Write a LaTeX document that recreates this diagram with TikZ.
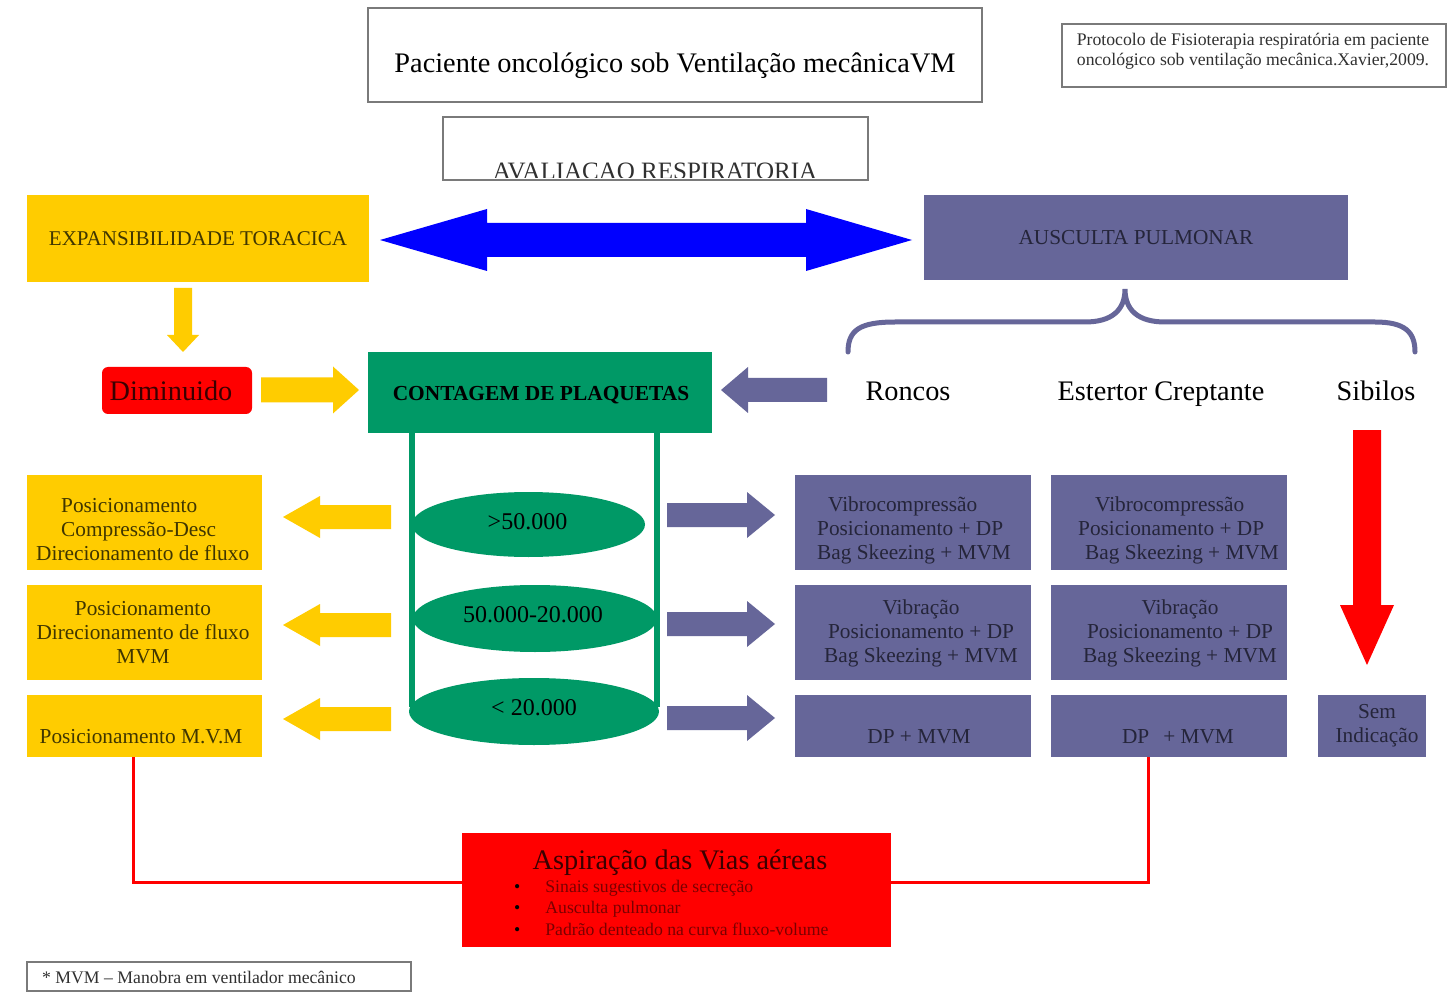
\documentclass[tikz,border=0pt]{standalone}
\usepackage{fontspec}
\setmainfont{Liberation Serif}
\usetikzlibrary{shapes.geometric}
\definecolor{yel}{HTML}{FFCC00}
\definecolor{pur}{HTML}{666699}
\definecolor{grn}{HTML}{009966}
\definecolor{rd}{HTML}{FF0000}
\definecolor{bl}{HTML}{0000FF}
\definecolor{bord}{HTML}{7A7A7A}
\definecolor{ytext}{HTML}{403600}
\definecolor{ptext}{HTML}{25253A}
\definecolor{dimtext}{HTML}{3A0000}
\definecolor{asptext}{HTML}{7A0000}
\definecolor{graytext}{HTML}{303030}
% horizontal block arrow: tail x, head base x, tip x, y, shaft half, head half, colour
\newcommand{\harrow}[7]{\fill[#7] (#1,#4-#5) -- (#2,#4-#5) -- (#2,#4-#6) -- (#3,#4) -- (#2,#4+#6) -- (#2,#4+#5) -- (#1,#4+#5) -- cycle;}
% vertical block arrow: tail y, head base y, tip y, x, shaft half, head half, colour
\newcommand{\varrow}[7]{\fill[#7] (#4-#5,#1) -- (#4-#5,#2) -- (#4-#6,#2) -- (#4,#3) -- (#4+#6,#2) -- (#4+#5,#2) -- (#4+#5,#1) -- cycle;}
\tikzset{
 frame/.style={draw=bord, line width=1.5pt, inner sep=0pt},
 ybox/.style={fill=yel, inner sep=0pt},
 pbox/.style={fill=pur, inner sep=0pt},
 ytxt/.style={text=ytext, font=\fontsize{21.3}{24}\selectfont, inner sep=0pt},
 ptxt/.style={text=ptext, font=\fontsize{21.3}{24}\selectfont, inner sep=0pt},
 lbl/.style={font=\fontsize{28.3}{32}\selectfont, inner sep=0pt},
 ell/.style={ellipse, fill=grn, inner sep=0pt, font=\fontsize{24}{28}\selectfont},
 redline/.style={draw=rd, line width=3pt},
 cyl/.style={draw=grn, line width=6pt},
}
\begin{document}
\begin{tikzpicture}[x=1pt,y=-1pt]
\useasboundingbox[fill=white] (0,0) rectangle (1452,992);

% title
\node[frame, line width=2pt, minimum width=614pt, minimum height=94pt] (title) at (675,55) {};
\node[lbl, anchor=base] (titlet) at (675,73) {Paciente oncológico sob Ventilação mecânicaVM};

% reference box
\node[frame, minimum width=384pt, minimum height=63pt] (ref) at (1254,55.5) {};
\node[inner sep=0pt, align=center, text=graytext, font=\fontsize{17.7}{20}\selectfont] (reft) at (1253,51) {Protocolo de Fisioterapia respiratória em paciente\\oncológico sob ventilação mecânica.Xavier,2009.};

% avaliacao
\begin{scope}
\clip (443,117) rectangle (868,178);
\node[anchor=base, inner sep=0pt, text=graytext, font=\fontsize{25}{28}\selectfont] (avt) at (655,180) {AVALIACAO RESPIRATORIA};
\end{scope}
\node[frame, minimum width=425pt, minimum height=63pt] (aval) at (655.5,148.5) {};

% expansibilidade / ausculta
\node[ybox, minimum width=342pt, minimum height=87pt, text=ytext, font=\fontsize{21}{24}\selectfont] (exp) at (198,238.5) {EXPANSIBILIDADE TORACICA};
\node[pbox, minimum width=424pt, minimum height=85pt, text=ptext, font=\fontsize{21.3}{24}\selectfont] (aus) at (1136,237.5) {AUSCULTA PULMONAR};

% blue double arrow
\fill[bl] (380,240) -- (487,209) -- (487,223) -- (806,223) -- (806,209) -- (912,240) -- (806,271) -- (806,257) -- (487,257) -- (487,271) -- cycle;

% brace
\draw[pur, line width=5pt, line cap=round] (848,352) .. controls (848,330) and (860,322) .. (895,322) -- (1085,322) .. controls (1112,322) and (1125,310) .. (1125,289) .. controls (1125,310) and (1138,322) .. (1165,322) -- (1375,322) .. controls (1405,322) and (1415,332) .. (1415,352);

% auscultation labels
\node[lbl, anchor=base] (ronc) at (908,400) {Roncos};
\node[lbl, anchor=base] (est) at (1161,400) {Estertor Creptante};
\node[lbl, anchor=base] (sib) at (1376,400) {Sibilos};

% diminuido
\varrow{288}{335}{352}{183}{9}{16}{yel}
\node[fill=rd, rounded corners=6pt, minimum width=150pt, minimum height=47pt, inner sep=0pt] (dim) at (177,390.5) {};
\node[inner sep=0pt, anchor=base, text=dimtext, font=\fontsize{28.3}{32}\selectfont] (dimt) at (171,400) {Diminuido};
\harrow{261}{333}{359}{390}{12.5}{23.5}{yel}

% contagem
\node[fill=grn, minimum width=344pt, minimum height=81pt, inner sep=0pt] (cont) at (540,392.5) {};
\node[inner sep=0pt, anchor=base, font=\bfseries\fontsize{21.4}{24}\selectfont] (contt) at (541,401) {CONTAGEM DE PLAQUETAS};
\harrow{827}{748}{721}{390}{12}{23}{pur}

% cylinder
\coordinate (cl) at (412,433);
\coordinate (cr) at (657,433);
\draw[cyl] (cl) -- (412,707);
\draw[cyl] (cr) -- (657,707);
\node[ell, minimum width=233pt, minimum height=65pt] (e1) at (528.5,524.5) {};
\node[ell, minimum width=244pt, minimum height=67pt] (e2) at (535,618.5) {};
\node[ell, minimum width=250pt, minimum height=67pt] (e3) at (534,711.5) {};
\node[inner sep=0pt, font=\fontsize{24}{28}\selectfont] (e1t) at (527.5,522) {>50.000};
\node[inner sep=0pt, font=\fontsize{24}{28}\selectfont] (e2t) at (533,615) {50.000-20.000};
\node[inner sep=0pt, font=\fontsize{24}{28}\selectfont] (e3t) at (534,708) {< 20.000};

% left (yellow) arrows and boxes
\harrow{391}{320}{283}{517}{12}{21}{yel}
\harrow{391}{320}{283}{625}{12}{21}{yel}
\harrow{391}{320}{283}{719}{12}{21}{yel}
\node[ybox, minimum width=235pt, minimum height=95pt] (y1) at (144.5,522.5) {};
\node[ybox, minimum width=235pt, minimum height=95pt] (y2) at (144.5,632.5) {};
\node[ybox, minimum width=235pt, minimum height=62pt] (y3) at (144.5,726) {};
\node[ytxt, align=left, anchor=west] (y1t) at (36,530) {\hspace*{25pt}Posicionamento\\\hspace*{25pt}Compressão-Desc\\Direcionamento de fluxo};
\node[ytxt, align=center] (y2t) at (143,633) {Posicionamento\\Direcionamento de fluxo\\MVM};
\node[ytxt] (y3t) at (141,737) {Posicionamento M.V.M};

% right (purple) arrows and boxes
\harrow{667}{747}{775}{515}{12}{23}{pur}
\harrow{667}{747}{775}{624}{12}{23}{pur}
\harrow{667}{747}{775}{718}{12}{23}{pur}
\node[pbox, minimum width=236pt, minimum height=95pt] (p1) at (913,522.5) {};
\node[pbox, minimum width=236pt, minimum height=95pt] (p2) at (1169,522.5) {};
\node[pbox, minimum width=236pt, minimum height=95pt] (p3) at (913,632.5) {};
\node[pbox, minimum width=236pt, minimum height=95pt] (p4) at (1169,632.5) {};
\node[pbox, minimum width=236pt, minimum height=62pt] (p5) at (913,726) {};
\node[pbox, minimum width=236pt, minimum height=62pt] (p6) at (1169,726) {};
\node[pbox, minimum width=108pt, minimum height=62pt] (p7) at (1372,726) {};
\node[ptxt, align=left, anchor=west] (p1t) at (817,530) {\hspace*{11pt}Vibrocompressão\\Posicionamento + DP\\Bag Skeezing + MVM};
\node[ptxt, align=left, anchor=west] (p2t) at (1078,530) {\hspace*{17pt}Vibrocompressão\\Posicionamento + DP\\\hspace*{7pt}Bag Skeezing + MVM};
\node[ptxt, align=center] (p3t) at (921,633) {Vibração\\Posicionamento + DP\\Bag Skeezing + MVM};
\node[ptxt, align=center] (p4t) at (1180,633) {Vibração\\Posicionamento + DP\\Bag Skeezing + MVM};
\node[ptxt] (p5t) at (919,737) {DP + MVM};
\node[ptxt] (p6t) at (1178,737) {DP\hspace{14pt}+ MVM};
\node[ptxt, align=center] (p7t) at (1377,726) {Sem\\Indicação};

% red arrow from sibilos
\varrow{430}{605}{665}{1367}{14}{27}{rd}

% aspiracao
\node[fill=rd, minimum width=429pt, minimum height=114pt, inner sep=0pt] (asp) at (676.5,890) {};
\node[inner sep=0pt, anchor=base, text=dimtext, font=\fontsize{28.3}{32}\selectfont] (aspt) at (680,869) {Aspiração das Vias aéreas};
\node[inner sep=0pt, anchor=west, text=asptext, font=\fontsize{17.7}{21.5}\selectfont] (aspl) at (514,909.5) {\begin{tabular}{@{}l@{\hspace{25pt}}l@{}}\textcolor{black}{•} & Sinais sugestivos de secreção\\ \textcolor{black}{•} & Ausculta pulmonar\\ \textcolor{black}{•} & Padrão denteado na curva fluxo-volume\end{tabular}};
\draw[redline] ([xshift=-11.5pt]y3.south) |- ([yshift=8pt]asp.west);
\draw[redline] ([xshift=-21pt]p6.south) |- ([yshift=8pt]asp.east);

% footnote
\node[frame, minimum width=384pt, minimum height=29pt] (foot) at (219,976.5) {};
\node[inner sep=0pt, anchor=west, text=graytext, font=\fontsize{17.7}{20}\selectfont] (foott) at (42,977) {* MVM – Manobra em ventilador mecânico};
\end{tikzpicture}
\end{document}
